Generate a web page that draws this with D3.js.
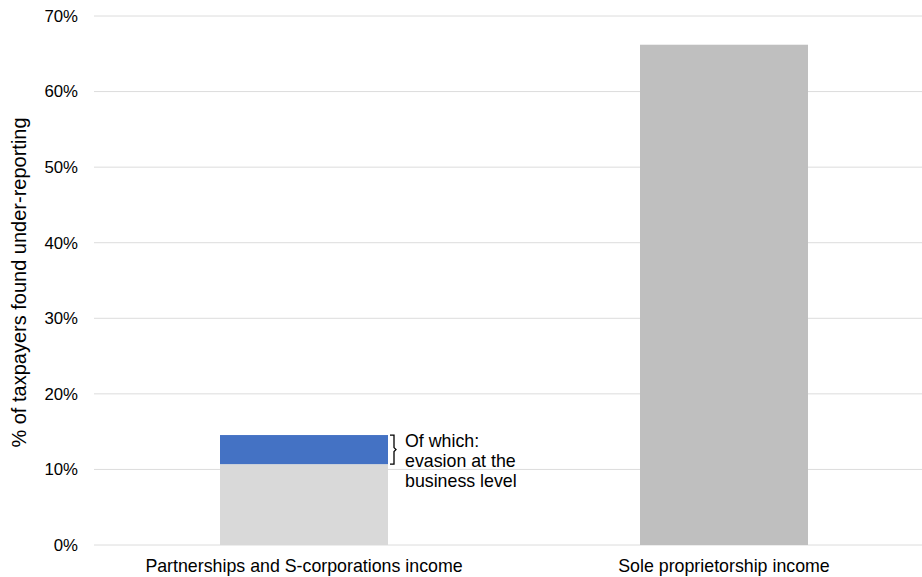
<!DOCTYPE html>
<html><head><meta charset="utf-8">
<script src="https://cdn.jsdelivr.net/npm/d3@7"></script>
<style>body{margin:0;background:#fff}svg{display:block}text{font-family:"Liberation Sans",Arial,sans-serif;fill:#000}</style>
</head><body>
<svg id="c" width="922" height="577"></svg>
<script>
const categories = ["Partnerships and S-corporations income", "Sole proprietorship income"];
const baseValues = [10.7, 66.2];
const businessLevelValues = [3.85, 0];
const yTicks = [0, 10, 20, 30, 40, 50, 60, 70];
const annotationLines = ["Of which:", "evasion at the", "business level"];
const yTitle = "% of taxpayers found under-reporting";

const svg = d3.select("#c");
const x = d3.scaleBand().domain(categories).range([94, 934]).paddingInner(0.6).paddingOuter(0.3);
const y = d3.scaleLinear().domain([0, 70]).range([545, 16]);

// gridlines
svg.append("g").selectAll("line").data(yTicks).join("line")
  .attr("x1", 94).attr("x2", 922)
  .attr("y1", d => y(d)).attr("y2", d => y(d))
  .attr("stroke", "#dcdcdc").attr("stroke-width", 1);

// y axis
const yAxis = d3.axisLeft(y).tickValues(yTicks).tickFormat(d => d + "%").tickSize(0).tickPadding(16);
const gy = svg.append("g").attr("transform", "translate(94,0)").call(yAxis);
gy.select(".domain").remove();
gy.selectAll("text").attr("font-size", 16.8).attr("fill", "#000").attr("font-family", "Liberation Sans, Arial, sans-serif");

// x axis
const xAxis = d3.axisBottom(x).tickSize(0).tickPadding(14);
const gx = svg.append("g").attr("transform", "translate(0,545)").call(xAxis);
gx.select(".domain").remove();
gx.selectAll("text").attr("font-size", 17.8).attr("fill", "#000").attr("font-family", "Liberation Sans, Arial, sans-serif");

const bw = 168;
const xc = d => x(d) + x.bandwidth() / 2 - bw / 2;
const baseColors = ["#d9d9d9", "#bfbfbf"];
svg.append("g").selectAll("rect").data(categories).join("rect")
  .attr("x", d => xc(d)).attr("width", bw)
  .attr("y", (d, i) => y(baseValues[i]))
  .attr("height", (d, i) => y(0) - y(baseValues[i]))
  .attr("fill", (d, i) => baseColors[i]);
svg.append("g").selectAll("rect").data(categories.filter((d, i) => businessLevelValues[i] > 0)).join("rect")
  .attr("x", d => xc(d)).attr("width", bw)
  .attr("y", d => { const i = categories.indexOf(d); return y(baseValues[i] + businessLevelValues[i]); })
  .attr("height", d => { const i = categories.indexOf(d); return y(baseValues[i]) - y(baseValues[i] + businessLevelValues[i]); })
  .attr("fill", "#4472c4");

// bracket
const bx = xc(categories[0]) + bw + 2;
const yTop = y(baseValues[0] + businessLevelValues[0]);
const yBot = y(baseValues[0]);
const ym = (yTop + yBot) / 2;
svg.append("path")
  .attr("d", `M${bx},${yTop} H${bx + 4} V${ym - 2} L${bx + 6},${ym} L${bx + 4},${ym + 2} V${yBot} H${bx}`)
  .attr("fill", "none").attr("stroke", "#000").attr("stroke-width", 1.3);

const ann = svg.append("text").attr("x", bx + 15).attr("y", yTop + 12).attr("font-size", 17.8);
annotationLines.forEach((t, i) => ann.append("tspan").attr("x", bx + 15).attr("dy", i === 0 ? 0 : 20).text(t));

// y title
svg.append("text").attr("transform", `translate(26,${(y(0) + y(70)) / 2 + 2}) rotate(-90)`)
  .attr("text-anchor", "middle").attr("font-size", 20).text(yTitle);
</script>
</body></html>
